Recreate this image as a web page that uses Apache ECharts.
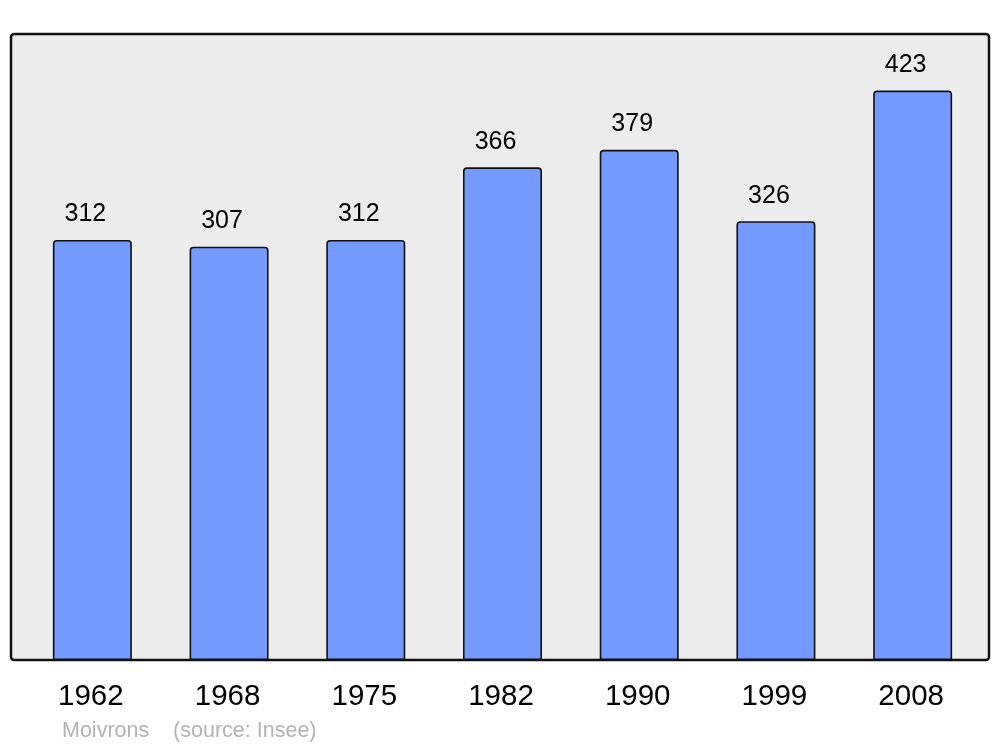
<!DOCTYPE html>
<html>
<head>
<meta charset="utf-8">
<script src="https://cdn.jsdelivr.net/npm/echarts@6/dist/echarts.min.js"></script>
<style>
html,body{margin:0;padding:0;background:#fff;}
#chart{width:1000px;height:747px;}
</style>
</head>
<body>
<div id="chart"></div>
<script>
const years = ['1962', '1968', '1975', '1982', '1990', '1999', '2008'];
const population = [312, 307, 312, 366, 379, 326, 423];
const footerText = 'Moivrons    (source: Insee)';

const chart = echarts.init(document.getElementById('chart'), null, {renderer: 'canvas'});
const font = '"Liberation Sans", Arial, sans-serif';
chart.setOption({
  animation: false,
  backgroundColor: '#ffffff',
  title: {
    text: footerText,
    left: 57,
    top: 715,
    textStyle: {fontFamily: font, fontSize: 21.5, fontWeight: 'normal', color: '#b3b3b3'}
  },
  graphic: [{
    type: 'rect',
    z: -10,
    silent: true,
    shape: {x: 11, y: 34, width: 978, height: 626, r: 3},
    style: {fill: '#ececec', stroke: '#111111', lineWidth: 2.5}
  }],
  grid: {left: 24, right: 19, top: 34, bottom: 87, containLabel: false},
  xAxis: {
    type: 'category',
    data: years,
    axisLine: {show: false},
    axisTick: {show: false},
    axisLabel: {fontFamily: font, fontSize: 29.5, color: '#000', margin: 22, padding: [0, 3, 0, 0]}
  },
  yAxis: {
    type: 'value',
    min: 0,
    max: 465,
    show: false,
    splitLine: {show: false}
  },
  series: [{
    type: 'bar',
    data: population,
    barWidth: 79,
    itemStyle: {color: '#7499ff', borderColor: '#111111', borderWidth: 1.6, borderRadius: [3, 3, 0, 0]},
    label: {
      show: true,
      position: 'top',
      distance: 13,
      offset: [-7, 0],
      fontFamily: font,
      fontSize: 25,
      color: '#000'
    }
  }]
});
</script>
</body>
</html>
